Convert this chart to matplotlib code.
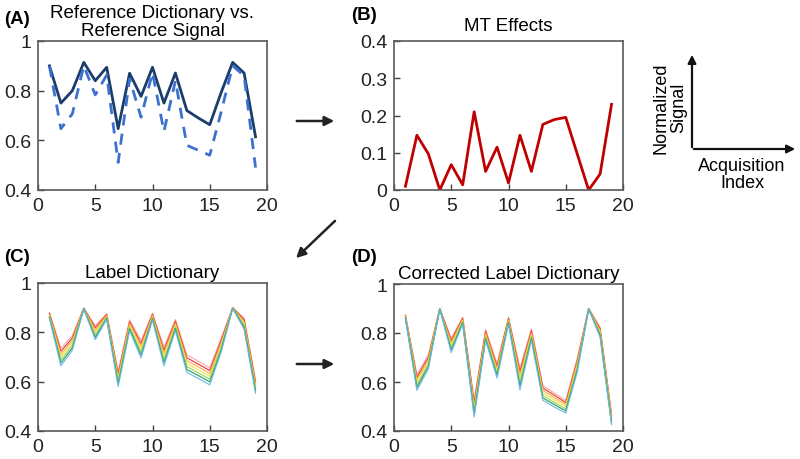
import matplotlib
matplotlib.use('Agg')
import matplotlib.pyplot as plt

plt.rcParams['font.family'] = ['Liberation Sans', 'DejaVu Sans']

# ------------------- Data ------------------- #
acq_index = list(range(1, 20))

# (A) reference dictionary (solid) vs reference signal (dashed)
ref_dictionary = [0.90, 0.75, 0.80, 0.914, 0.84, 0.894, 0.647, 0.87, 0.777, 0.894,
                  0.75, 0.871, 0.72, 0.69, 0.663, 0.793, 0.914, 0.871, 0.614]
ref_signal = [0.898, 0.647, 0.707, 0.90, 0.783, 0.863, 0.511, 0.847, 0.693, 0.873,
              0.636, 0.84, 0.58, 0.56, 0.54, 0.715, 0.90, 0.86, 0.49]

# (B) MT effects
mt_effects = [0.01, 0.147, 0.097, 0.0, 0.068, 0.014, 0.21, 0.05, 0.115, 0.019,
              0.147, 0.05, 0.176, 0.189, 0.195, 0.097, 0.0, 0.043, 0.23]

# (C) label dictionary, one entry per colour (top to bottom)
label_dict = [
    [0.880, 0.735, 0.787, 0.898, 0.827, 0.876, 0.640, 0.850, 0.767, 0.877,
     0.740, 0.852, 0.709, 0.683, 0.656, 0.776, 0.900, 0.858, 0.606],
    [0.876, 0.723, 0.777, 0.898, 0.818, 0.872, 0.630, 0.843, 0.755, 0.873,
     0.727, 0.845, 0.697, 0.671, 0.645, 0.767, 0.900, 0.851, 0.597],
    [0.872, 0.711, 0.767, 0.897, 0.808, 0.868, 0.620, 0.836, 0.743, 0.868,
     0.715, 0.837, 0.685, 0.660, 0.633, 0.757, 0.899, 0.843, 0.588],
    [0.868, 0.700, 0.757, 0.897, 0.799, 0.865, 0.610, 0.829, 0.732, 0.864,
     0.702, 0.830, 0.673, 0.648, 0.622, 0.748, 0.899, 0.836, 0.580],
    [0.864, 0.688, 0.747, 0.896, 0.789, 0.861, 0.600, 0.821, 0.720, 0.859,
     0.689, 0.822, 0.661, 0.636, 0.610, 0.739, 0.898, 0.828, 0.571],
    [0.860, 0.676, 0.737, 0.896, 0.780, 0.857, 0.590, 0.814, 0.708, 0.855,
     0.677, 0.815, 0.649, 0.625, 0.599, 0.729, 0.898, 0.821, 0.562],
    [0.856, 0.664, 0.727, 0.895, 0.770, 0.853, 0.580, 0.807, 0.696, 0.850,
     0.664, 0.807, 0.637, 0.613, 0.587, 0.720, 0.897, 0.813, 0.553],
]

# (D) corrected label dictionary
corrected_dict = [
    [0.874, 0.630, 0.710, 0.900, 0.779, 0.864, 0.525, 0.814, 0.674, 0.864,
     0.657, 0.817, 0.586, 0.555, 0.525, 0.695, 0.900, 0.824, 0.470],
    [0.871, 0.619, 0.701, 0.900, 0.769, 0.860, 0.514, 0.807, 0.664, 0.860,
     0.642, 0.809, 0.576, 0.546, 0.516, 0.686, 0.900, 0.817, 0.463],
    [0.868, 0.609, 0.691, 0.899, 0.759, 0.855, 0.502, 0.799, 0.655, 0.855,
     0.627, 0.801, 0.566, 0.536, 0.508, 0.677, 0.899, 0.810, 0.455],
    [0.866, 0.598, 0.682, 0.899, 0.750, 0.851, 0.491, 0.792, 0.645, 0.851,
     0.613, 0.794, 0.556, 0.527, 0.499, 0.668, 0.899, 0.804, 0.448],
    [0.863, 0.587, 0.673, 0.899, 0.740, 0.846, 0.480, 0.785, 0.635, 0.846,
     0.598, 0.786, 0.545, 0.517, 0.490, 0.658, 0.899, 0.797, 0.441],
    [0.860, 0.577, 0.663, 0.898, 0.730, 0.842, 0.468, 0.777, 0.626, 0.842,
     0.583, 0.778, 0.535, 0.508, 0.482, 0.649, 0.898, 0.790, 0.433],
    [0.857, 0.566, 0.654, 0.898, 0.720, 0.837, 0.457, 0.770, 0.616, 0.837,
     0.568, 0.770, 0.525, 0.498, 0.473, 0.640, 0.898, 0.783, 0.426],
]

dict_colors = ['#f4a3a3', '#e8322c', '#f7a640', '#f2e03c', '#8fd14f', '#1f9a5a', '#6db7e8']
dict_alpha = [0.85, 0.9, 0.85, 0.85, 0.85, 0.9, 0.9]

x_ticks = [0, 5, 10, 15, 20]
sig_ticks = [0.4, 0.6, 0.8, 1.0]
sig_labels = ['0.4', '0.6', '0.8', '1']
mt_ticks = [0, 0.1, 0.2, 0.3, 0.4]
mt_labels = ['0', '0.1', '0.2', '0.3', '0.4']

# ------------------- Layout ------------------- #
fig = plt.figure(figsize=(8, 4.6), dpi=100)
W, H = 800, 460


def px_axes(left, top, right, bottom):
    """Axes from pixel edges (origin top left)."""
    return fig.add_axes([left / W, 1 - bottom / H, (right - left) / W, (bottom - top) / H])


def style(ax, yticks, ylabels):
    ax.set_xlim(0, 20)
    ax.set_xticks(x_ticks)
    ax.set_yticks(yticks)
    ax.set_yticklabels(ylabels)
    ax.set_ylim(yticks[0], yticks[-1])
    for s in ax.spines.values():
        s.set_color('#595959')
        s.set_linewidth(1.2)
    ax.tick_params(direction='in', length=4, width=1, color='#404040',
                   labelsize=14, labelcolor='#222222')
    ax.tick_params(axis='y', pad=5)
    ax.tick_params(axis='x', pad=5)


ax_a = px_axes(38, 42, 267, 191)
ax_b = px_axes(394, 42, 623, 191)
ax_c = px_axes(38, 284, 267, 432)
ax_d = px_axes(394, 285, 623, 432)

# (A)
ax_a.plot(acq_index, ref_dictionary, color='#1b3d6b', lw=2)
ax_a.plot(acq_index, ref_signal, color='#3d71d0', lw=2, ls=(0, (4, 3)))
style(ax_a, sig_ticks, sig_labels)
ax_a.set_title('Reference Dictionary vs.\nReference Signal', fontsize=13.5,
               linespacing=1.1, pad=4)

# (B)
ax_b.plot(acq_index, mt_effects, color='#c00000', lw=2)
style(ax_b, mt_ticks, mt_labels)
ax_b.set_title('MT Effects', fontsize=13.5, pad=8)

# (C) and (D)
for ax, data in [(ax_c, label_dict), (ax_d, corrected_dict)]:
    for vals, col, a in zip(data, dict_colors, dict_alpha):
        ax.plot(acq_index, vals, color=col, lw=0.9, alpha=a)
    style(ax, sig_ticks, sig_labels)
ax_c.set_title('Label Dictionary', fontsize=13.5, pad=4)
ax_d.set_title('Corrected Label Dictionary', fontsize=13.5, pad=4)

# ------------------- Overlay: labels, arrows, axis sketch ------------------- #
ov = fig.add_axes([0, 0, 1, 1])
ov.set_xlim(0, W)
ov.set_ylim(H, 0)
ov.axis('off')
ov.patch.set_alpha(0)

for lbl, x, y in [('(A)', 4, 20), ('(B)', 351, 15), ('(C)', 4, 258), ('(D)', 351, 258)]:
    ov.text(x, y, lbl, fontsize=13.5, fontweight='bold', va='center', ha='left')

arrow = dict(arrowstyle='-|>', color='#222222', lw=1.8, mutation_scale=14)
ov.annotate('', xy=(337, 122), xytext=(294, 122), arrowprops=arrow)
ov.annotate('', xy=(294, 261), xytext=(337, 220), arrowprops=arrow)
ov.annotate('', xy=(337, 365), xytext=(294, 365), arrowprops=arrow)

# small axis sketch
sketch = dict(arrowstyle='-|>', color='#111111', lw=1.6, mutation_scale=12)
ov.annotate('', xy=(692, 53), xytext=(692, 151), arrowprops=sketch)
ov.annotate('', xy=(798, 150), xytext=(691, 150), arrowprops=sketch)
ov.text(670, 108, 'Normalized\nSignal', rotation=90, ha='center', va='center',
        fontsize=13, linespacing=1.05)
ov.text(742, 175, 'Acquisition\nIndex', ha='center', va='center',
        fontsize=13, linespacing=1.05)

fig.savefig('out.png', dpi=100)
